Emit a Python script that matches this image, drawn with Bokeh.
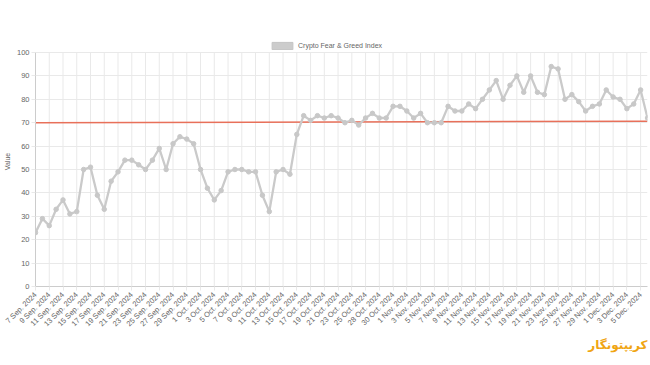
import math
from bokeh.plotting import figure
from bokeh.models import Range1d, FixedTicker, Legend, LegendItem, Title
from bokeh.embed import file_html
from bokeh.resources import INLINE

series_name = "Crypto Fear & Greed Index"

values = [
    23, 29, 26, 33, 37, 31, 32, 50, 51, 39, 33, 45, 49, 54, 54,
    52, 50, 54, 59, 50, 61, 64, 63, 61, 50, 42, 37, 41, 49, 50,
    50, 49, 49, 39, 32, 49, 50, 48, 65, 73, 71, 73, 72, 73, 72,
    70, 71, 69, 72, 74, 72, 72, 77, 77, 75, 72, 74, 70, 70, 70,
    77, 75, 75, 78, 76, 80, 84, 88, 80, 86, 90, 83, 90, 83, 82,
    94, 93, 80, 82, 79, 75, 77, 78, 84, 81, 80, 76, 78, 84, 72,
]

tick_labels = [
    "7 Sep. 2024", "9 Sep. 2024", "11 Sep. 2024", "13 Sep. 2024", "15 Sep. 2024",
    "17 Sep. 2024", "19 Sep. 2024", "21 Sep. 2024", "23 Sep. 2024", "25 Sep. 2024",
    "27 Sep. 2024", "29 Sep. 2024", "1 Oct. 2024", "3 Oct. 2024", "5 Oct. 2024",
    "7 Oct. 2024", "9 Oct. 2024", "11 Oct. 2024", "13 Oct. 2024", "15 Oct. 2024",
    "17 Oct. 2024", "19 Oct. 2024", "21 Oct. 2024", "23 Oct. 2024", "25 Oct. 2024",
    "28 Oct. 2024", "30 Oct. 2024", "1 Nov. 2024", "3 Nov. 2024", "5 Nov. 2024",
    "7 Nov. 2024", "9 Nov. 2024", "11 Nov. 2024", "13 Nov. 2024", "15 Nov. 2024",
    "17 Nov. 2024", "19 Nov. 2024", "21 Nov. 2024", "23 Nov. 2024", "25 Nov. 2024",
    "27 Nov. 2024", "29 Nov. 2024", "1 Dec. 2024", "3 Dec. 2024", "5 Dec. 2024",
]

y_ticks = [0, 10, 20, 30, 40, 50, 60, 70, 80, 90, 100]
threshold = [70, 70.6]
logo_text = "کریپتونگار"

xs = list(range(len(values)))
tick_pos = [2 * i for i in range(len(tick_labels))]
y_lo, y_hi = y_ticks[0], y_ticks[-1]

FONT = "Liberation Sans"
TXT = "#666666"
GRID = "#e9e9e9"
FS = "7.5px"

# headroom above 100 holds the legend (the axis itself is bounded to 0-100)
p = figure(
    width=650, height=365, output_backend="svg", toolbar_location=None,
    x_range=Range1d(0, len(values) - 1), y_range=Range1d(y_lo, y_hi * 1.0684),
    min_border_left=34, min_border_right=3, min_border_top=36, min_border_bottom=79,
    background_fill_color="white", border_fill_color="white",
)
p.outline_line_color = None

# x axis
p.xaxis.ticker = FixedTicker(ticks=tick_pos)
p.xaxis.major_label_overrides = {t: lab for t, lab in zip(tick_pos, tick_labels)}
p.xaxis.major_label_orientation = math.pi / 4
p.xaxis.major_label_text_font_size = FS
p.xaxis.major_label_text_font = FONT
p.xaxis.major_label_text_color = TXT
p.xaxis.axis_line_color = "#cccccc"
p.xaxis.major_tick_line_color = GRID
p.xaxis.major_tick_out = 4
p.xaxis.major_tick_in = 0
p.xaxis.minor_tick_line_color = None
p.xaxis.major_label_standoff = 3

# y axis
p.yaxis.ticker = FixedTicker(ticks=y_ticks)
p.yaxis.bounds = (y_lo, y_hi)
p.yaxis.major_label_text_font_size = FS
p.yaxis.major_label_text_font = FONT
p.yaxis.major_label_text_color = TXT
p.yaxis.axis_line_color = "#cccccc"
p.yaxis.major_tick_line_color = GRID
p.yaxis.major_tick_out = 4
p.yaxis.major_tick_in = 0
p.yaxis.minor_tick_line_color = None
p.yaxis.major_label_standoff = 2
p.yaxis.axis_label = "Value"
p.yaxis.axis_label_text_font_size = "7px"
p.yaxis.axis_label_text_font = FONT
p.yaxis.axis_label_text_font_style = "normal"
p.yaxis.axis_label_text_color = TXT
p.yaxis.axis_label_standoff = 3

p.ygrid.grid_line_color = GRID
p.xgrid.grid_line_color = None
# vertical grid lines limited to the 0-100 value span
p.segment(x0=tick_pos, y0=[y_lo] * len(tick_pos), x1=tick_pos, y1=[y_hi] * len(tick_pos),
          line_color=GRID, line_width=1, level="underlay")

# threshold line
p.line([xs[0], xs[-1]], threshold, line_color="#e8705a", line_width=1.5)

# series
p.line(xs, values, line_color="#cacaca", line_width=2.3)
p.scatter(xs, values, size=4.5, fill_color="#c8c8c8", line_color="#c8c8c8")

# legend swatch renderer: a single NaN placeholder (draws nothing in the plot,
# only provides the legend box style)
nan = float("nan")
swatch = p.quad(left=[nan], right=[nan], top=[nan], bottom=[nan],
                fill_color="#cccccc", line_color="#c4c4c4")
legend = Legend(
    items=[LegendItem(label=series_name, renderers=[swatch])],
    orientation="horizontal", location=(234, 236),
    glyph_width=26, glyph_height=9, label_height=9,
    label_text_font_size="7px", label_text_font=FONT, label_text_color=TXT,
    label_standoff=3, border_line_color=None, background_fill_alpha=0,
    padding=2, margin=0,
)
p.add_layout(legend)

logo = Title(text=logo_text, align="right", text_color="#f0a512",
             text_font_size="12px", text_font_style="bold", text_font="DejaVu Sans",
             standoff=2)
p.add_layout(logo, "below")

open("out.html", "w").write(file_html(p, INLINE))
